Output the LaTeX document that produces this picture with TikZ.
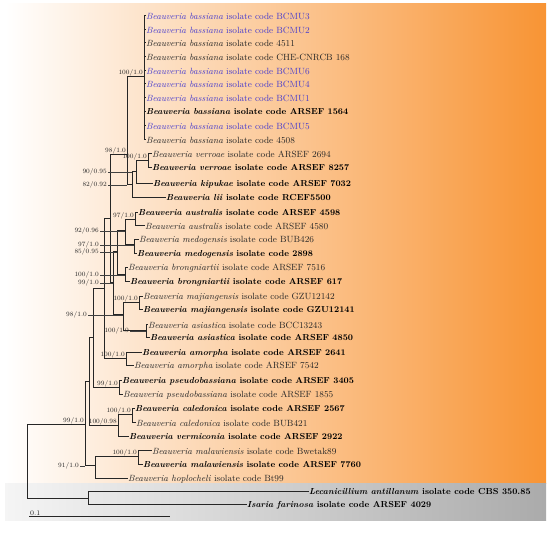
\documentclass[tikz,border=0pt]{standalone}
\usepackage{tikz}
\definecolor{bcmu}{RGB}{72,60,205}
\definecolor{orangeR}{RGB}{248,148,52}
\newcommand{\bv}[1]{\textit{Beauveria #1} isolate code}
\begin{document}
\begin{tikzpicture}[x=1pt,y=-1pt,
    leaf/.style={anchor=west,inner sep=0pt,font=\fontsize{9}{10}\selectfont,text=black!85},
    blueleaf/.style={leaf,text=bcmu},
    boldleaf/.style={leaf,text=black,font=\fontsize{8.7}{10}\selectfont\bfseries},
    br/.style={draw=black!85,line width=1pt},
    bs/.style={font=\fontsize{6.5}{7}\selectfont,inner sep=1pt,text=black!85},
    lead/.style={draw=black!75,line width=0.5pt}]
        \useasboundingbox(0,0)rectangle(550,534);
        \fill[left color=white,right color=orangeR](5,4)rectangle(546,484);
        \fill[left color=black!4,right color=black!33](5,484)rectangle(546,521);
        \node[blueleaf](bBCMU3)at(146,16){\bv{bassiana} BCMU3};
        \node[blueleaf](bBCMU2)at(146,30){\bv{bassiana} BCMU2};
        \node[leaf](b4511)at(146,43){\bv{bassiana} 4511};
        \node[leaf](bCHE)at(146,57){\bv{bassiana} CHE-CNRCB 168};
        \node[blueleaf](bBCMU6)at(146,71){\bv{bassiana} BCMU6};
        \node[blueleaf](bBCMU4)at(146,84){\bv{bassiana} BCMU4};
        \node[blueleaf](bBCMU1)at(146,98){\bv{bassiana} BCMU1};
        \node[boldleaf](b1564)at(146,112){\bv{bassiana} ARSEF 1564};
        \node[blueleaf](bBCMU5)at(146,126){\bv{bassiana} BCMU5};
        \node[leaf](b4508)at(146,140){\bv{bassiana} 4508};
        \node[leaf](ver2694)at(152,154){\bv{verroae} ARSEF 2694};
        \node[boldleaf](ver8257)at(152,168){\bv{verroae} ARSEF 8257};
        \node[boldleaf](kip7032)at(153,184){\bv{kipukae} ARSEF 7032};
        \node[boldleaf](lii5500)at(166,198){\bv{lii} RCEF5500};
        \node[boldleaf](aus4598)at(138,213){\bv{australis} ARSEF 4598};
        \node[leaf](aus4580)at(145,226){\bv{australis} ARSEF 4580};
        \node[leaf](medBUB)at(139,240){\bv{medogensis} BUB426};
        \node[boldleaf](med2898)at(137,254){\bv{medogensis} 2898};
        \node[leaf](bro7516)at(128,268){\bv{brongniartii} ARSEF 7516};
        \node[boldleaf](bro617)at(130,282){\bv{brongniartii} ARSEF 617};
        \node[leaf](majGZU2)at(143,297){\bv{majiangensis} GZU12142};
        \node[boldleaf](majGZU1)at(143,310){\bv{majiangensis} GZU12141};
        \node[leaf](asiBCC)at(148,325){\bv{asiastica} BCC13243};
        \node[boldleaf](asi4850)at(150,338){\bv{asiastica} ARSEF 4850};
        \node[boldleaf](amo2641)at(142,353){\bv{amorpha} ARSEF 2641};
        \node[leaf](amo7542)at(134,366){\bv{amorpha} ARSEF 7542};
        \node[boldleaf](pse3405)at(122,381){\bv{pseudobassiana} ARSEF 3405};
        \node[leaf](pse1855)at(123,395){\bv{pseudobassiana} ARSEF 1855};
        \node[boldleaf](cal2567)at(135,409){\bv{caledonica} ARSEF 2567};
        \node[leaf](calBUB)at(136,423){\bv{caledonica} BUB421};
        \node[boldleaf](vrm2922)at(129,437){\bv{vermiconia} ARSEF 2922};
        \node[leaf](malBw)at(152,451){\bv{malawiensis} Bwetak89};
        \node[boldleaf](mal7760)at(143,465){\bv{malawiensis} ARSEF 7760};
        \node[leaf](hopBt)at(128,479){\bv{hoplocheli} Bt99};
        \node[boldleaf](lecCBS)at(309,492){\textit{Lecanicillium antillanum} isolate code CBS 350.85};
        \node[boldleaf](isa4029)at(247,505){\textit{Isaria farinosa} isolate code ARSEF 4029};
        \coordinate(nBas)at(144,77);
        \coordinate(nVer)at(148,161);
        \coordinate(nVK)at(136,172);
        \coordinate(nVKL)at(132,185);
        \coordinate(nE)at(127,155);
        \coordinate(nAus)at(135,220);
        \coordinate(nMed)at(134,245);
        \coordinate(nAM)at(125,231);
        \coordinate(nBr)at(125,275);
        \coordinate(nAMB)at(117,252);
        \coordinate(nMaj)at(139,303);
        \coordinate(nAsi)at(146,331);
        \coordinate(nMA)at(123,315);
        \coordinate(nX)at(113,283);
        \coordinate(nG)at(110,219);
        \coordinate(nAmo)at(126,359);
        \coordinate(nH)at(104,289);
        \coordinate(nPse)at(119,388);
        \coordinate(nI)at(93,338);
        \coordinate(nCal)at(132,415);
        \coordinate(nCV)at(118,426);
        \coordinate(nJ)at(89,382);
        \coordinate(nMal)at(138,457);
        \coordinate(nMH)at(95,466);
        \coordinate(nK)at(85,425);
        \coordinate(nOut)at(88,499);
        \coordinate(root)at(27,462);
        \draw[br](nBas)|-(bBCMU3.west)(nBas)|-(bBCMU2.west)(nBas)|-(b4511.west)(nBas)|-(bCHE.west)
          (nBas)|-(bBCMU6.west)(nBas)|-(bBCMU4.west)(nBas)|-(bBCMU1.west)(nBas)|-(b1564.west)
          (nBas)|-(bBCMU5.west)(nBas)|-(b4508.west);
        \draw[br](nVer)|-(ver2694.west)(nVer)|-(ver8257.west);
        \draw[br](nVK)|-(nVer)(nVK)|-(kip7032.west);
        \draw[br](nVKL)|-(nVK)(nVKL)|-(lii5500.west);
        \draw[br](nE)|-(nBas)(nE)|-(nVKL);
        \draw[br](nAus)|-(aus4598.west)(nAus)|-(aus4580.west);
        \draw[br](nMed)|-(medBUB.west)(nMed)|-(med2898.west);
        \draw[br](nAM)|-(nAus)(nAM)|-(nMed);
        \draw[br](nBr)|-(bro7516.west)(nBr)|-(bro617.west);
        \draw[br](nAMB)|-(nAM)(nAMB)|-(nBr);
        \draw[br](nMaj)|-(majGZU2.west)(nMaj)|-(majGZU1.west);
        \draw[br](nAsi)|-(asiBCC.west)(nAsi)|-(asi4850.west);
        \draw[br](nMA)|-(nMaj)(nMA)|-(nAsi);
        \draw[br](nX)|-(nAMB)(nX)|-(nMA);
        \draw[br](nG)|-(nE)(nG)|-(nX);
        \draw[br](nAmo)|-(amo2641.west)(nAmo)|-(amo7542.west);
        \draw[br](nH)|-(nG)(nH)|-(nAmo);
        \draw[br](nPse)|-(pse3405.west)(nPse)|-(pse1855.west);
        \draw[br](nI)|-(nH)(nI)|-(nPse);
        \draw[br](nCal)|-(cal2567.west)(nCal)|-(calBUB.west);
        \draw[br](nCV)|-(nCal)(nCV)|-(vrm2922.west);
        \draw[br](nJ)|-(nI)(nJ)|-(nCV);
        \draw[br](nMal)|-(malBw.west)(nMal)|-(mal7760.west);
        \draw[br](nMH)|-(nMal)(nMH)|-(hopBt.west);
        \draw[br](nK)|-(nJ)(nK)|-(nMH);
        \draw[br](nOut)|-(lecCBS.west)(nOut)|-(isa4029.west);
        \draw[br](root)|-(nK)(root)|-(nOut);
        \node[bs,anchor=south east]at(nBas){100/1.0};
        \node[bs,anchor=south east]at(nE){98/1.0};
        \node[bs,anchor=south east]at(nVer){100/1.0};
        \node[bs,anchor=south east]at(nAus){97/1.0};
        \node[bs,anchor=south east]at(nMaj){100/1.0};
        \node[bs,anchor=south east]at(nAmo){100/1.0};
        \node[bs,anchor=south east]at(nPse){99/1.0};
        \node[bs,anchor=south east]at(nCal){100/1.0};
        \node[bs,anchor=south east]at(nCV){100/0.98};
        \node[bs,anchor=south east]at(nK){99/1.0};
        \node[bs,anchor=south east]at(nMal){100/1.0};
        \node[bs,anchor=east](l9095)at(108,172){90/0.95};
        \node[bs,anchor=east](l8292)at(108,185){82/0.92};
        \node[bs,anchor=east](l9296)at(100,231){92/0.96};
        \node[bs,anchor=east](l9710)at(100,245){97/1.0};
        \node[bs,anchor=east](l8595)at(100,252){85/0.95};
        \node[bs,anchor=east](lBro)at(100,275){100/1.0};
        \node[bs,anchor=east](l9910)at(100,283){99/1.0};
        \node[bs,anchor=east](l9810)at(88,315){98/1.0};
        \node[bs,anchor=east](lAsi)at(130,331){100/1.0};
        \node[bs,anchor=east](l9110)at(80,466){91/1.0};
        \draw[lead](l9095.east)--(l9095.east-|nVKL);
        \draw[lead](l8292.east)--(l8292.east-|nE);
        \draw[lead](l9296.east)--(l9296.east-|nAM);
        \draw[lead](l9710.east)--(l9710.east-|nMed);
        \draw[lead](l8595.east)--(l8595.east-|nAMB);
        \draw[lead](lBro.east)--(lBro.east-|nBr);
        \draw[lead](l9910.east)--(l9910.east-|nX);
        \draw[lead](l9810.east)--(l9810.east-|nMA);
        \draw[lead](lAsi.east)--(lAsi.east-|nAsi);
        \draw[lead](l9110.east)--(l9110.east-|nK);
        \coordinate(sb0)at(29,517);
        \coordinate(sb1)at(170,517);
        \draw[br](sb0)--(sb1);
        \node[bs,anchor=south west,font=\fontsize{7}{8}\selectfont]at(sb0){0.1};
      \end{tikzpicture}
\end{document}
